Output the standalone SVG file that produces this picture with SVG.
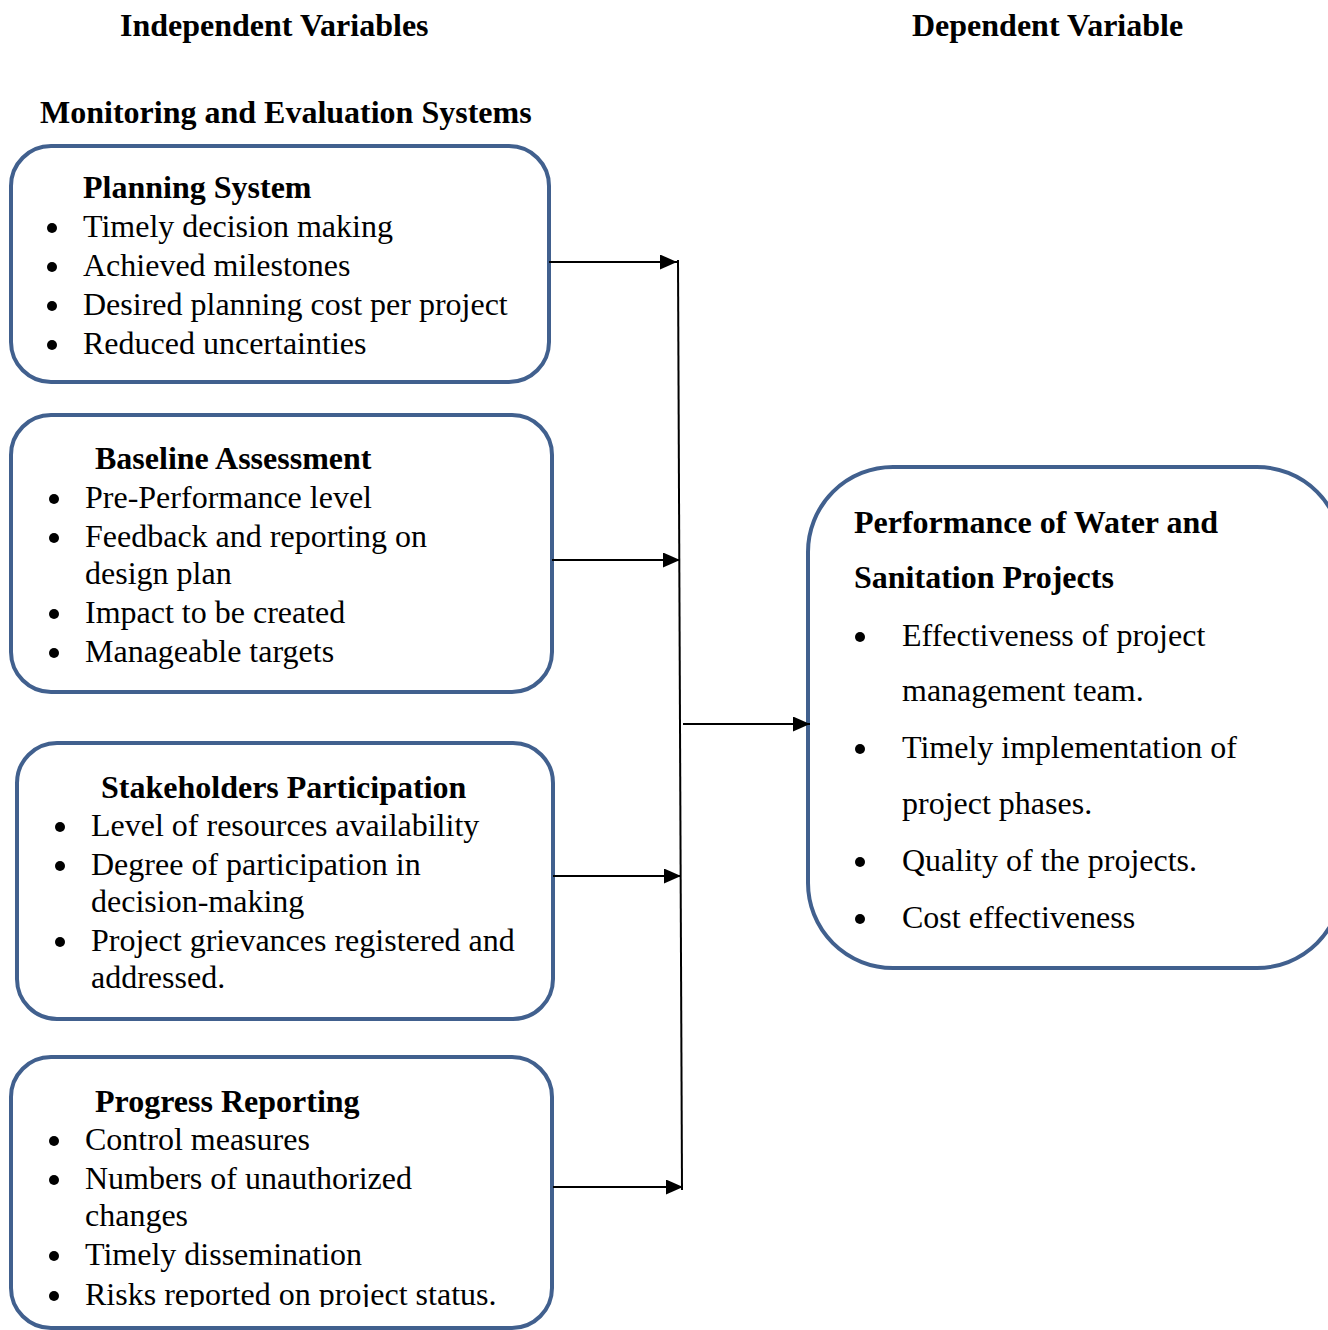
<svg xmlns="http://www.w3.org/2000/svg" width="1328" height="1330" viewBox="0 0 1328 1330">
<style>
.t{font-family:"Liberation Serif","Times New Roman",serif;font-size:32px;fill:#000}
.b{font-family:"Liberation Serif","Times New Roman",serif;font-size:32px;font-weight:bold;fill:#000}
.box{fill:#fff;stroke:#41608E;stroke-width:4}
.ln{stroke:#000;stroke-width:2;fill:none}
.dot{fill:#000}
</style>
<defs>
<marker id="ah" markerWidth="17" markerHeight="15" refX="17" refY="7.5" orient="auto" markerUnits="userSpaceOnUse">
<path d="M0,0 L17,7.5 L0,15 Z" fill="#000"/>
</marker>
<clipPath id="clip4"><rect x="0" y="1040" width="600" height="267"/></clipPath>
</defs>
<rect width="1328" height="1330" fill="#fff"/>
<text class="b" x="120" y="36">Independent Variables</text>
<text class="b" x="912" y="36">Dependent Variable</text>
<text class="b" x="40" y="123">Monitoring and Evaluation Systems</text>

<g id="planning">
<rect class="box" x="11" y="146" width="538" height="236" rx="40"/>
<text class="b" x="83" y="198">Planning System</text>
<circle class="dot" cx="52" cy="228" r="5"/><text class="t" x="83" y="237">Timely decision making</text>
<circle class="dot" cx="52" cy="267" r="5"/><text class="t" x="83" y="276">Achieved milestones</text>
<circle class="dot" cx="52" cy="306" r="5"/><text class="t" x="83" y="315">Desired planning cost per project</text>
<circle class="dot" cx="52" cy="345" r="5"/><text class="t" x="83" y="354">Reduced uncertainties</text>
</g>

<g id="baseline">
<rect class="box" x="11" y="415" width="541" height="277" rx="40"/>
<text class="b" x="95" y="469">Baseline Assessment</text>
<circle class="dot" cx="54" cy="499" r="5"/><text class="t" x="85" y="508">Pre-Performance level</text>
<circle class="dot" cx="54" cy="538" r="5"/><text class="t" x="85" y="547">Feedback and reporting on</text>
<text class="t" x="85" y="584">design plan</text>
<circle class="dot" cx="54" cy="614" r="5"/><text class="t" x="85" y="623">Impact to be created</text>
<circle class="dot" cx="54" cy="653" r="5"/><text class="t" x="85" y="662">Manageable targets</text>
</g>

<g id="stakeholders">
<rect class="box" x="17" y="743" width="536" height="276" rx="40"/>
<text class="b" x="101" y="798">Stakeholders Participation</text>
<circle class="dot" cx="60" cy="827" r="5"/><text class="t" x="91" y="836">Level of resources availability</text>
<circle class="dot" cx="60" cy="866" r="5"/><text class="t" x="91" y="875">Degree of participation in</text>
<text class="t" x="91" y="912">decision-making</text>
<circle class="dot" cx="60" cy="942" r="5"/><text class="t" x="91" y="951">Project grievances registered and</text>
<text class="t" x="91" y="988">addressed.</text>
</g>

<g id="progress">
<rect class="box" x="11" y="1057" width="541" height="271" rx="40"/>
<g clip-path="url(#clip4)">
<text class="b" x="95" y="1112">Progress Reporting</text>
<circle class="dot" cx="54" cy="1141" r="5"/><text class="t" x="85" y="1150">Control measures</text>
<circle class="dot" cx="54" cy="1180" r="5"/><text class="t" x="85" y="1189">Numbers of unauthorized</text>
<text class="t" x="85" y="1226">changes</text>
<circle class="dot" cx="54" cy="1256" r="5"/><text class="t" x="85" y="1265">Timely dissemination</text>
<circle class="dot" cx="54" cy="1296" r="5"/><text class="t" x="85" y="1305">Risks reported on project status.</text>
</g>
</g>

<g id="performance">
<rect class="box" x="808" y="467" width="534" height="501" rx="85"/>
<text class="b" x="854" y="533">Performance of Water and</text>
<text class="b" x="854" y="588">Sanitation Projects</text>
<circle class="dot" cx="860" cy="637" r="5"/><text class="t" x="902" y="646">Effectiveness of project</text>
<text class="t" x="902" y="701">management team.</text>
<circle class="dot" cx="860" cy="749" r="5"/><text class="t" x="902" y="758">Timely implementation of</text>
<text class="t" x="902" y="814">project phases.</text>
<circle class="dot" cx="860" cy="862" r="5"/><text class="t" x="902" y="871">Quality of the projects.</text>
<circle class="dot" cx="860" cy="919" r="5"/><text class="t" x="902" y="928">Cost effectiveness</text>
</g>

<g id="connectors">
<line class="ln" x1="678" y1="260" x2="682" y2="1190"/>
<line class="ln" x1="549" y1="262" x2="677" y2="262" marker-end="url(#ah)"/>
<line class="ln" x1="552" y1="560" x2="680" y2="560" marker-end="url(#ah)"/>
<line class="ln" x1="553" y1="876" x2="681" y2="876" marker-end="url(#ah)"/>
<line class="ln" x1="553" y1="1187" x2="683" y2="1187" marker-end="url(#ah)"/>
<line class="ln" x1="683" y1="724" x2="810" y2="724" marker-end="url(#ah)"/>
</g>
</svg>
